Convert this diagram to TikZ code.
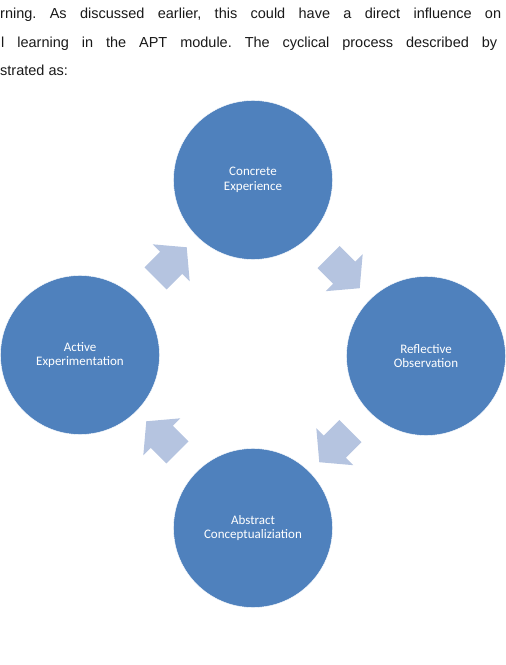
\documentclass[tikz,border=0pt]{standalone}
\usepackage{fontspec}
\setmainfont{Liberation Sans}
\newfontfamily\labelfont{Carlito}
\usetikzlibrary{shapes.arrows,calc}
\definecolor{stageblue}{RGB}{79,129,189}
\definecolor{arrowgrey}{RGB}{181,196,224}
\tikzset{
  stage/.style={circle, fill=stageblue, draw=white, minimum size=159pt, inner sep=0pt,
    align=center, text=white, font=\labelfont\fontsize{13}{14.5}\selectfont},
  cyclearrow/.style={single arrow, fill=arrowgrey, minimum height=44pt, inner xsep=0pt,
    inner ysep=15.5pt, single arrow head extend=10.5pt, single arrow tip angle=100},
  bodyline/.style={anchor=base west, inner sep=0pt, font=\fontsize{14.5}{17}\selectfont, text=black!90}
}
\frenchspacing
\begin{document}
\begin{tikzpicture}[x=1pt,y=1pt]
    \useasboundingbox (0,0) rectangle (506,665);

    % Text above
    \node[bodyline] (line1) at (0,646) {\makebox[501pt][s]{rning. As discussed earlier, this could have a direct influence on}};
    \node[bodyline] (line2) at (1,617) {\makebox[496pt][s]{l learning in the APT module. The cyclical process described by}};
    \node[bodyline] (line3) at (0,589) {strated as:};

    % Stages
    \node[stage] (ce) at (253,485) {Concrete\\Experience};
    \node[stage] (ro) at (426,309) {Reflective\\Observation};
    \node[stage] (ac) at (253,137) {Abstract\\Conceptualiziation};
    \node[stage] (ae) at (80,310) {Active\\Experimentation};

    % Arrows between stages
    \node[cyclearrow, rotate=-45] (a1) at ($(ce)!0.5!(ro)$) {};
    \node[cyclearrow, rotate=-135] (a2) at ($(ro)!0.5!(ac)$) {};
    \node[cyclearrow, rotate=135] (a3) at ($(ac)!0.5!(ae)$) {};
    \node[cyclearrow, rotate=45] (a4) at ($(ae)!0.5!(ce)$) {};
\end{tikzpicture}
\end{document}
